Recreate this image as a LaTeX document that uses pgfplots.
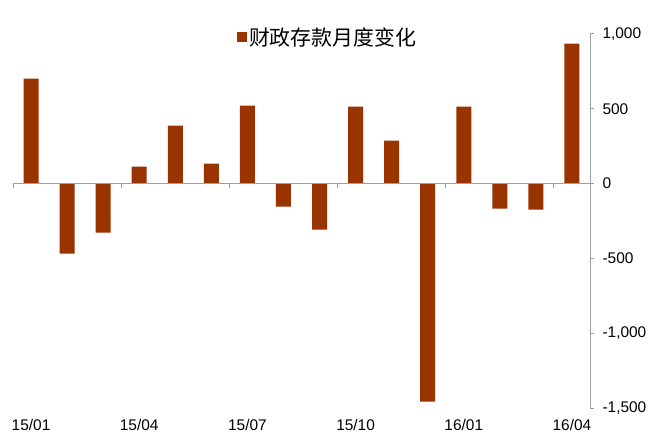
\documentclass[border=0pt]{standalone}
\usepackage{pgfplots}
\pgfplotsset{compat=1.18}
\usepackage{fontspec}
\setmainfont{Liberation Sans}
\newfontfamily\cjk{Noto Sans CJK SC}
\definecolor{bar}{HTML}{993300}
\definecolor{axgray}{HTML}{A0A0A0}
\begin{document}
\begin{tikzpicture}
\begin{axis}[
  scale only axis, width=577bp, height=374bp,
  xmin=-0.5, xmax=15.5, ymin=-1500, ymax=1000,
  axis y line*=right, axis x line*=bottom,
  x axis line style={draw=none},
  y axis line style={axgray, line width=1bp},
  ytick={-1500,-1000,-500,0,500,1000},
  xtick={0,3,6,9,12,15},
  xticklabels={15/01,15/04,15/07,15/10,16/01,16/04},
  major x tick style={draw=none},
  y tick style={axgray, line width=1bp},
  tick align=outside, major tick length=4bp,
  /pgf/number format/assume math mode=true,
  /pgf/number format/1000 sep={,},
  ticklabel style={font=\fontsize{15.5}{18}\selectfont},
  yticklabel style={anchor=west, xshift=5bp},
  xticklabel style={yshift=-4bp},
  legend style={at={(0.388,0.992)}, anchor=west, draw=none, fill=none,
    font=\fontsize{21}{24}\selectfont, inner sep=0pt},
  legend image code/.code={\fill[bar] (0bp,-5bp) rectangle (10bp,5bp);},
]
\addplot[ybar, bar width=15bp, fill=bar, draw=none] coordinates {
 (0,702) (1,-468) (2,-328) (3,114) (4,388) (5,134) (6,521) (7,-154)
 (8,-307) (9,515) (10,287) (11,-1457) (12,515) (13,-167) (14,-174) (15,936)};
\addlegendentry{\cjk 财政存款月度变化}
\draw[axgray, line width=1bp] (axis cs:-0.5,0) -- (axis cs:15.5,0);
\pgfplotsinvokeforeach{-0.5,2.5,5.5,8.5,11.5,14.5}{
  \draw[axgray, line width=1bp] (axis cs:#1,0) -- ([yshift=-4bp]axis cs:#1,0);
}
\node[font=\cjk\fontsize{15}{18}\selectfont, anchor=south] at ([yshift=7bp]rel axis cs:1,1) {十亿元};
\coordinate (ll) at (rel axis cs:0,0);
\coordinate (ur) at (rel axis cs:1,1);
\end{axis}
\pgfresetboundingbox
\useasboundingbox ([shift={(-13bp,-26bp)}]ll) rectangle ([shift={(64bp,34bp)}]ur);
\end{tikzpicture}
\end{document}
